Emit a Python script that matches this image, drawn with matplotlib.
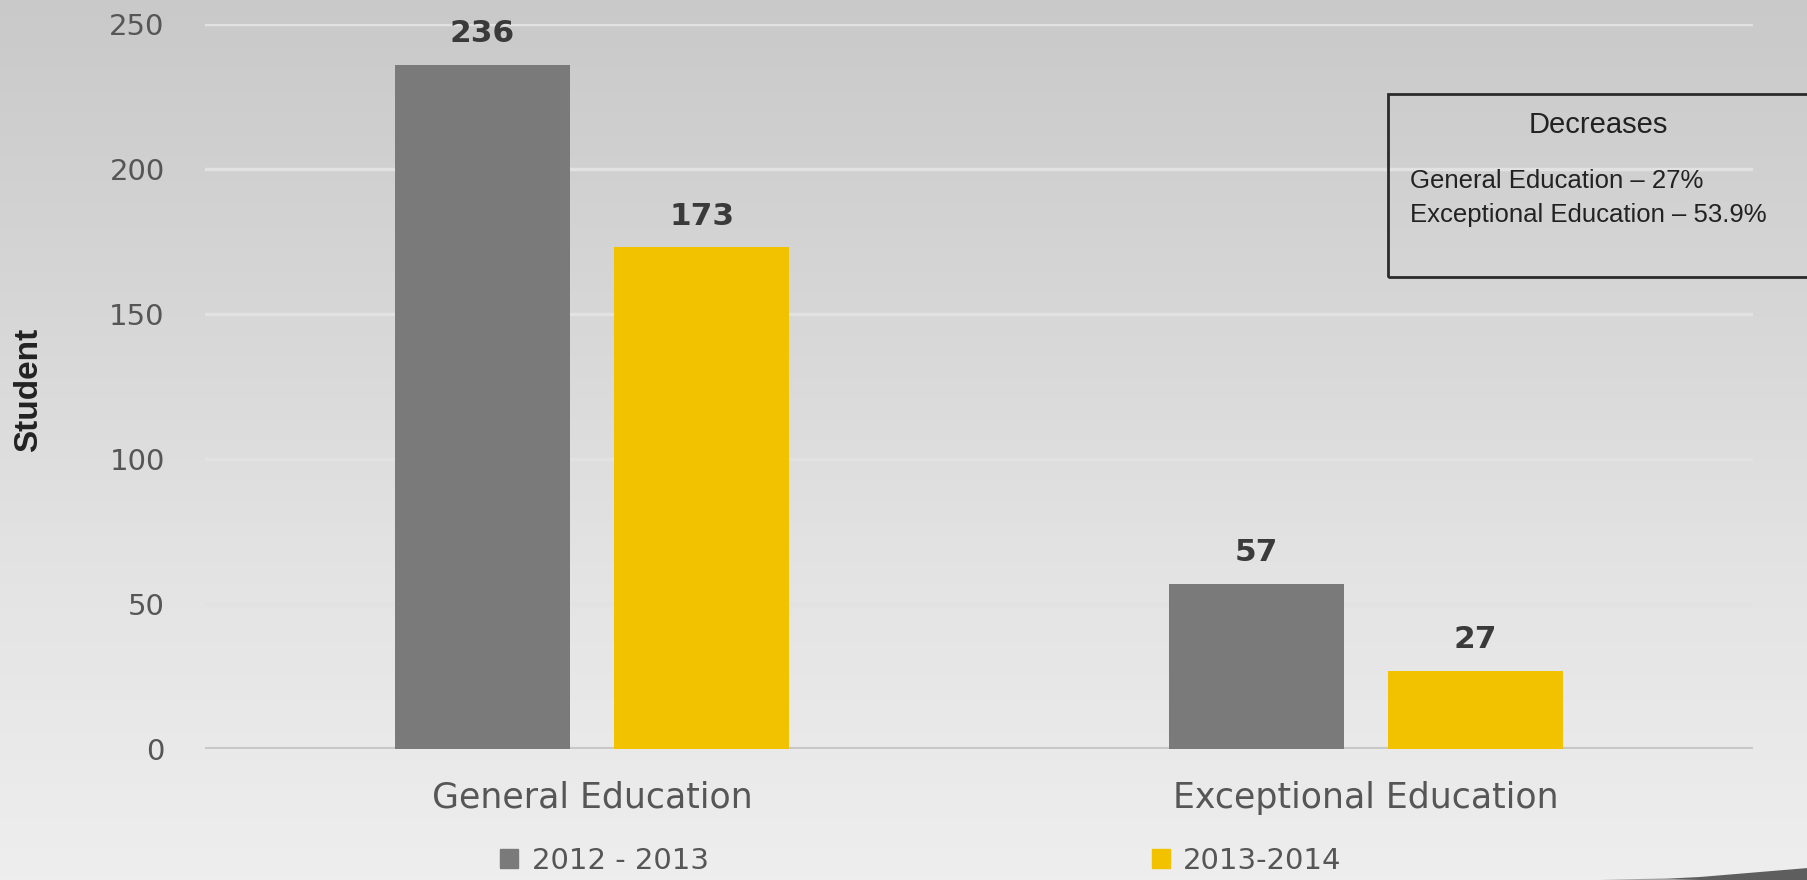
import numpy as np
import matplotlib
matplotlib.use("Agg")
import matplotlib.pyplot as plt
from matplotlib.patches import Rectangle, Polygon
from matplotlib.colors import LinearSegmentedColormap

# ---- data ----
categories = ["General Education", "Exceptional Education"]
years = ["2012 - 2013", "2013-2014"]
students_2012_13 = [236, 57]
students_2013_14 = [173, 27]
y_ticks = [0, 50, 100, 150, 200, 250]
box_title = "Decreases"
box_lines = ["General Education – 27%", "Exceptional Education – 53.9%"]

GRAY = "#7a7a7a"
YELLOW = "#f2c200"
TICK_COLOR = "#565656"
TEXT_DARK = "#222222"

W, H = 1808, 880
fig = plt.figure(figsize=(W / 100, H / 100), dpi=100)


def fx(px):
    return px / W


def fy(py):
    return 1 - py / H


# ---- slide background: soft vertical gray gradient ----
bg = fig.add_axes([0, 0, 1, 1], zorder=0)
cmap = LinearSegmentedColormap.from_list("bg", ["#c9c9c9", "#d6d6d6", "#e4e4e4", "#eeeeee"])
grad = np.linspace(0, 1, 256).reshape(-1, 1)
bg.imshow(grad, aspect="auto", cmap=cmap, extent=[0, 1, 0, 1], origin="upper")
bg.set_xlim(0, 1)
bg.set_ylim(0, 1)
bg.set_axis_off()

# dark swoosh in the lower right corner
swoosh = Polygon([(fx(1640), fy(880)), (fx(1700), fy(877)), (fx(1760), fy(872)),
                  (fx(1808), fy(868)), (fx(1808), fy(880))],
                 closed=True, facecolor="#5e5e5e", edgecolor="none")
bg.add_patch(swoosh)
swoosh_fade = Polygon([(fx(1600), fy(880)), (fx(1660), fy(878.5)), (fx(1700), fy(880))],
                      closed=True, facecolor="#a5a5a5", edgecolor="none")
bg.add_patch(swoosh_fade)

# ---- main chart ----
ax = fig.add_axes([fx(205), fy(749), fx(1753) - fx(205), (749 - 24) / H], zorder=1)
ax.set_facecolor("none")

x = np.arange(len(categories))
bar_w = 0.2265
offset = 0.1417
bars1 = ax.bar(x - offset, students_2012_13, bar_w, color=GRAY, zorder=3)
bars2 = ax.bar(x + offset, students_2013_14, bar_w, color=YELLOW, zorder=3)

for bars, vals in ((bars1, students_2012_13), (bars2, students_2013_14)):
    for b, v in zip(bars, vals):
        ax.annotate(f"{v}", (b.get_x() + b.get_width() / 2, v),
                    xytext=(0, 16), textcoords="offset points",
                    ha="center", va="baseline", fontsize=22.5, fontweight="bold",
                    color="#3a3a3a", family="DejaVu Sans", clip_on=False)

ax.set_xlim(-0.5, 1.5)
ax.set_ylim(0, 250)
ax.set_yticks(y_ticks)
ax.set_xticks(x)
ax.set_xticklabels(categories, fontsize=25, color=TICK_COLOR, family="DejaVu Sans")
for lab in ax.get_yticklabels():
    lab.set_family("DejaVu Sans")
ax.tick_params(axis="y", length=0, pad=29, labelsize=21, labelcolor=TICK_COLOR)
ax.tick_params(axis="x", length=0, pad=23)
ax.yaxis.grid(True, color="#e2e2e2", linewidth=2.5, zorder=0)
ax.set_axisbelow(True)
for s in ax.spines.values():
    s.set_visible(False)
ax.axhline(0, color="#c8c8c8", linewidth=3, zorder=2)

# legend below the category labels
handles = [Rectangle((0, 0), 1, 1, color=GRAY), Rectangle((0, 0), 1, 1, color=YELLOW)]
leg = ax.legend(handles, years, ncol=2, loc="center",
                bbox_to_anchor=(fx(921), fy(861)), bbox_transform=fig.transFigure,
                frameon=False, handlelength=0.62, handleheight=0.62,
                handletextpad=0.45, columnspacing=15.2, borderpad=0, borderaxespad=0,
                labelcolor=TICK_COLOR, prop={"family": "DejaVu Sans", "size": 21})

# y-axis title
fig.text(fx(29), fy(390), "Student", rotation=90, ha="center", va="center",
         fontsize=24, fontweight="bold", color=TEXT_DARK,
         family=["Liberation Sans Narrow", "Liberation Sans"], fontstretch="condensed")

# ---- annotation box on the right ----
fig.add_artist(Rectangle((fx(1388), fy(277)), fx(1840) - fx(1388), (277 - 94) / H,
                         transform=fig.transFigure, fill=False, edgecolor="#2b2b2b",
                         linewidth=2, zorder=5))
fig.text(fx(1598), fy(133), box_title, ha="center", va="baseline", fontsize=21,
         color=TEXT_DARK, family="Liberation Sans", zorder=6)
for i, line in enumerate(box_lines):
    fig.text(fx(1410), fy(188 + 34 * i), line, ha="left", va="baseline", fontsize=18.5,
             color=TEXT_DARK, family="Liberation Sans", zorder=6)

fig.savefig("out.png", dpi=100)
